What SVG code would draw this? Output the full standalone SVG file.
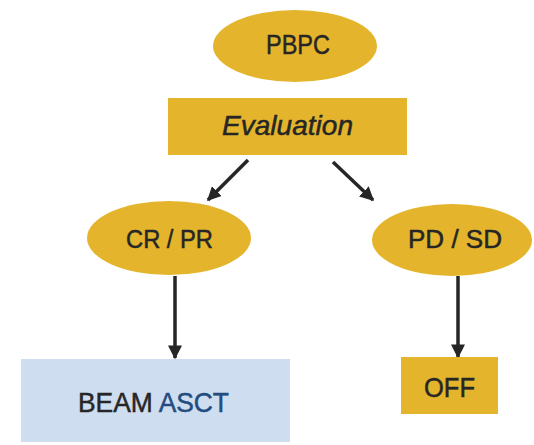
<svg xmlns="http://www.w3.org/2000/svg" width="534" height="445" viewBox="0 0 534 445">
  <style>
    .gold { fill: #e4b52c; }
    .blue { fill: #cfddf0; }
    .lbl { font-family: "Liberation Sans", Arial, sans-serif; fill: #262626; stroke: #262626; stroke-width: 0.5; }
    .edge { stroke: #262626; stroke-width: 3.5; fill: none; }
  </style>
  <defs>
    <marker id="arrow" viewBox="0 0 10 10" refX="9" refY="5" markerWidth="4" markerHeight="4" orient="auto" markerUnits="strokeWidth">
      <path d="M0,0 L10,5 L0,10 z" fill="#262626"/>
    </marker>
  </defs>
  <rect width="534" height="445" fill="#ffffff"/>

  <g id="connectors">
    <line class="edge" x1="248" y1="160" x2="208" y2="200" marker-end="url(#arrow)"/>
    <line class="edge" x1="333" y1="162" x2="373" y2="200" marker-end="url(#arrow)"/>
    <line class="edge" x1="175" y1="276" x2="175" y2="358" marker-end="url(#arrow)"/>
    <line class="edge" x1="458" y1="276" x2="458" y2="357" marker-end="url(#arrow)"/>
  </g>

  <g id="pbpc">
    <ellipse class="gold" cx="295" cy="46" rx="82" ry="36"/>
    <text class="lbl" x="266" y="54" font-size="28" textLength="64" lengthAdjust="spacingAndGlyphs">PBPC</text>
  </g>

  <g id="evaluation">
    <rect class="gold" x="168" y="98" width="239" height="57"/>
    <text class="lbl" x="222" y="135" font-size="28" font-style="italic" textLength="131" lengthAdjust="spacingAndGlyphs">Evaluation</text>
  </g>

  <g id="cr-pr">
    <ellipse class="gold" cx="169" cy="238" rx="82" ry="37"/>
    <text class="lbl" x="126" y="248" font-size="25" textLength="87" lengthAdjust="spacingAndGlyphs">CR / PR</text>
  </g>

  <g id="pd-sd">
    <ellipse class="gold" cx="452" cy="240" rx="80" ry="36"/>
    <text class="lbl" x="408" y="248" font-size="25" textLength="94" lengthAdjust="spacingAndGlyphs">PD / SD</text>
  </g>

  <g id="beam-asct">
    <rect class="blue" x="21" y="359" width="269" height="83"/>
    <text class="lbl" x="78" y="412" font-size="28" textLength="151" lengthAdjust="spacingAndGlyphs">BEAM <tspan fill="#234d80" stroke="#234d80">ASCT</tspan></text>
  </g>

  <g id="off">
    <rect class="gold" x="401" y="357" width="97" height="57"/>
    <text class="lbl" x="424" y="397" font-size="28" textLength="51" lengthAdjust="spacingAndGlyphs">OFF</text>
  </g>
</svg>
